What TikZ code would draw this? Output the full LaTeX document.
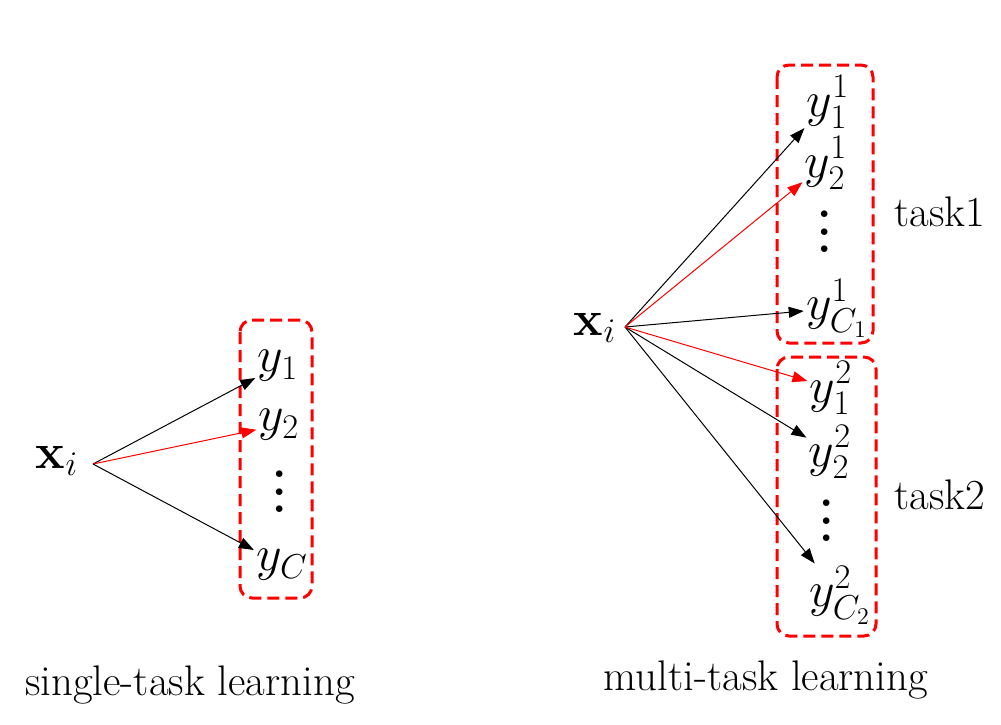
\documentclass[tikz,border=0pt]{standalone}
\usepackage{amsmath,amssymb}
\usetikzlibrary{arrows.meta}
% three stacked dots that scale with the spacing we want
\newcommand{\stackdots}{\vbox{\baselineskip=8.7pt \lineskiplimit=0pt
    \hbox{\bfseries .}\hbox{\bfseries .}\hbox{\bfseries .}}}

\begin{document}
\begin{tikzpicture}[x=0.5pt, y=-0.5pt,
    lab/.style={font=\fontsize{21.4}{24}\selectfont},
    var/.style={font=\fontsize{23}{26}\selectfont, inner sep=1pt},
    dots/.style={font=\fontsize{23}{26}\selectfont, inner sep=0pt},
    link/.style={-{Triangle[length=7.5pt,width=5.5pt]}, line width=0.5pt},
    taskbox/.style={red, line width=1.5pt, dash pattern=on 6pt off 3pt, rounded corners=6pt}]
    \useasboundingbox (0,0) rectangle (1001,724);

    % Single-task learning
    \node[var] (xl) at (57,461) {$\mathbf{x}_i$};
    \coordinate (sl) at (93,464);
    \node[var] (l1) at (278,366) {$y_1$};
    \node[var] (l2) at (279,425) {$y_2$};
    \node[dots] (ld) at (280,492) {\stackdots};
    \node[var] (lc) at (282,565) {$y_C$};
    \draw[taskbox] (240,320) rectangle (312,598);
    \draw[link] (sl) -- (l1);
    \draw[link, red] (sl) -- (l2);
    \draw[link] (sl) -- (lc);
    \node[lab] (single) at (190,685) {single-task learning};

    % Multi-task learning
    \node[var] (xr) at (595,328) {$\mathbf{x}_i$};
    \coordinate (sr) at (625,327);
    \node[var] (a1) at (828,102) {$y_1^1$};
    \node[var] (a2) at (826,163) {$y_2^1$};
    \node[dots] (ad) at (825,232) {\stackdots};
    \node[var] (ac) at (837,308) {$y_{C_1}^1$};
    \node[var] (b1) at (831,388) {$y_1^2$};
    \node[var] (b2) at (830,452) {$y_2^2$};
    \node[dots] (bd) at (827,521) {\stackdots};
    \node[var] (bc) at (840,595) {$y_{C_2}^2$};
    \draw[taskbox] (777,65) rectangle (873,343);
    \draw[taskbox] (777,357) rectangle (876,636);
    \foreach \t in {a1,ac,b2,bc}
        \draw[link] (sr) -- (\t);
    \foreach \t in {a2,b1}
        \draw[link, red] (sr) -- (\t);
    \node[lab] (task1) at (940,212) {task1};
    \node[lab] (task2) at (940,495) {task2};
    \node[lab] (multi) at (766,680) {multi-task learning};
\end{tikzpicture}
\end{document}
